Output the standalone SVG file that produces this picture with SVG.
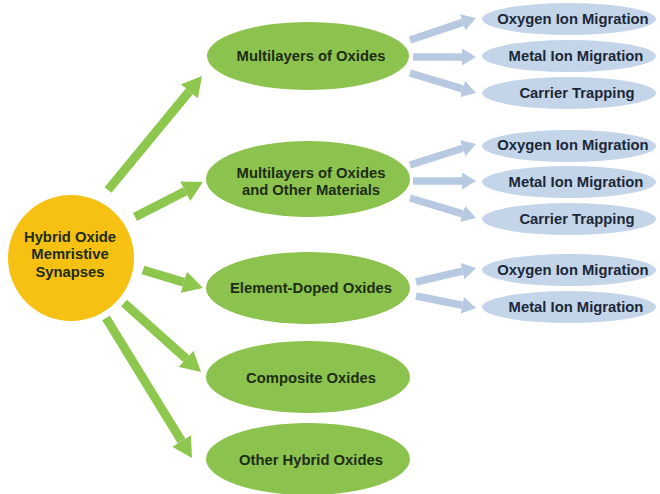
<svg xmlns="http://www.w3.org/2000/svg" width="660" height="494" viewBox="0 0 660 494">
<defs>
<style>
text{font-family:"Liberation Sans",Arial,sans-serif;font-weight:bold;font-size:14.8px;text-anchor:middle}
.g{fill:#8cc34e}
.b{fill:#c4d4e9}
.y{fill:#f6c113}
.tg{fill:#1d2c14}
.tb{fill:#1b2838}
.ga{stroke:#8dc74e;stroke-width:9;fill:none}
.ba{stroke:#b8cae1;stroke-width:7.5;fill:none}
</style>
<marker id="gh" markerUnits="userSpaceOnUse" markerWidth="20" markerHeight="22" refX="0" refY="11" orient="auto" viewBox="0 0 20 22"><path d="M0,0 L20,11 L0,22 z" fill="#8dc74e"/></marker>
<marker id="bh" markerUnits="userSpaceOnUse" markerWidth="14" markerHeight="17" refX="0" refY="8.5" orient="auto" viewBox="0 0 14 17"><path d="M0,0 L14,8.5 L0,17 z" fill="#b8cae1"/></marker>
</defs>
<rect width="660" height="494" fill="#ffffff"/>
<g id="connectors">
<line class="ga" x1="108" y1="190" x2="189.3" y2="91.4" marker-end="url(#gh)"/>
<line class="ga" x1="135" y1="217" x2="185.2" y2="191.2" marker-end="url(#gh)"/>
<line class="ga" x1="143" y1="270" x2="183.8" y2="282.2" marker-end="url(#gh)"/>
<line class="ga" x1="124" y1="303" x2="186.1" y2="358.7" marker-end="url(#gh)"/>
<line class="ga" x1="106" y1="318" x2="181.5" y2="441" marker-end="url(#gh)"/>
<line class="ba" x1="410" y1="40" x2="462.7" y2="22.4" marker-end="url(#bh)"/>
<line class="ba" x1="413" y1="57" x2="462" y2="57" marker-end="url(#bh)"/>
<line class="ba" x1="410" y1="73" x2="462.6" y2="88.9" marker-end="url(#bh)"/>
<line class="ba" x1="410" y1="165" x2="462.7" y2="148.2" marker-end="url(#bh)"/>
<line class="ba" x1="413" y1="181" x2="462" y2="181" marker-end="url(#bh)"/>
<line class="ba" x1="410" y1="198" x2="462.6" y2="213.9" marker-end="url(#bh)"/>
<line class="ba" x1="416" y1="282" x2="462.4" y2="271.2" marker-end="url(#bh)"/>
<line class="ba" x1="416" y1="296" x2="462.3" y2="305.3" marker-end="url(#bh)"/>
</g>
<g id="root">
<circle class="y" cx="71" cy="258" r="63"/>
<text class="tg" x="70" y="242">Hybrid Oxide</text>
<text class="tg" x="70" y="259">Memristive</text>
<text class="tg" x="70" y="277">Synapses</text>
</g>
<g id="n1"><ellipse class="g" cx="308" cy="56" rx="101" ry="34"/><text class="tg" x="311" y="61">Multilayers of Oxides</text></g>
<g id="n2"><ellipse class="g" cx="308" cy="179" rx="102" ry="38"/><text class="tg" x="311" y="178">Multilayers of Oxides</text><text class="tg" x="311" y="195">and Other Materials</text></g>
<g id="n3"><ellipse class="g" cx="308" cy="288" rx="102" ry="36"/><text class="tg" x="311" y="293">Element-Doped Oxides</text></g>
<g id="n4"><ellipse class="g" cx="308" cy="377" rx="102" ry="36"/><text class="tg" x="311" y="383">Composite Oxides</text></g>
<g id="n5"><ellipse class="g" cx="308" cy="459" rx="102" ry="36"/><text class="tg" x="311" y="465">Other Hybrid Oxides</text></g>
<g id="b1"><ellipse class="b" cx="569" cy="19" rx="87" ry="16"/><text class="tb" x="573" y="24">Oxygen Ion Migration</text></g>
<g id="b2"><ellipse class="b" cx="569" cy="56" rx="87" ry="16"/><text class="tb" x="576" y="61">Metal Ion Migration</text></g>
<g id="b3"><ellipse class="b" cx="569" cy="93" rx="87" ry="16"/><text class="tb" x="577" y="98">Carrier Trapping</text></g>
<g id="b4"><ellipse class="b" cx="569" cy="146" rx="87" ry="16"/><text class="tb" x="573" y="150">Oxygen Ion Migration</text></g>
<g id="b5"><ellipse class="b" cx="569" cy="182" rx="87" ry="16"/><text class="tb" x="576" y="187">Metal Ion Migration</text></g>
<g id="b6"><ellipse class="b" cx="569" cy="219" rx="87" ry="16"/><text class="tb" x="577" y="224">Carrier Trapping</text></g>
<g id="b7"><ellipse class="b" cx="569" cy="270" rx="87" ry="16"/><text class="tb" x="573" y="275">Oxygen Ion Migration</text></g>
<g id="b8"><ellipse class="b" cx="569" cy="307" rx="87" ry="16"/><text class="tb" x="576" y="312">Metal Ion Migration</text></g>
</svg>
